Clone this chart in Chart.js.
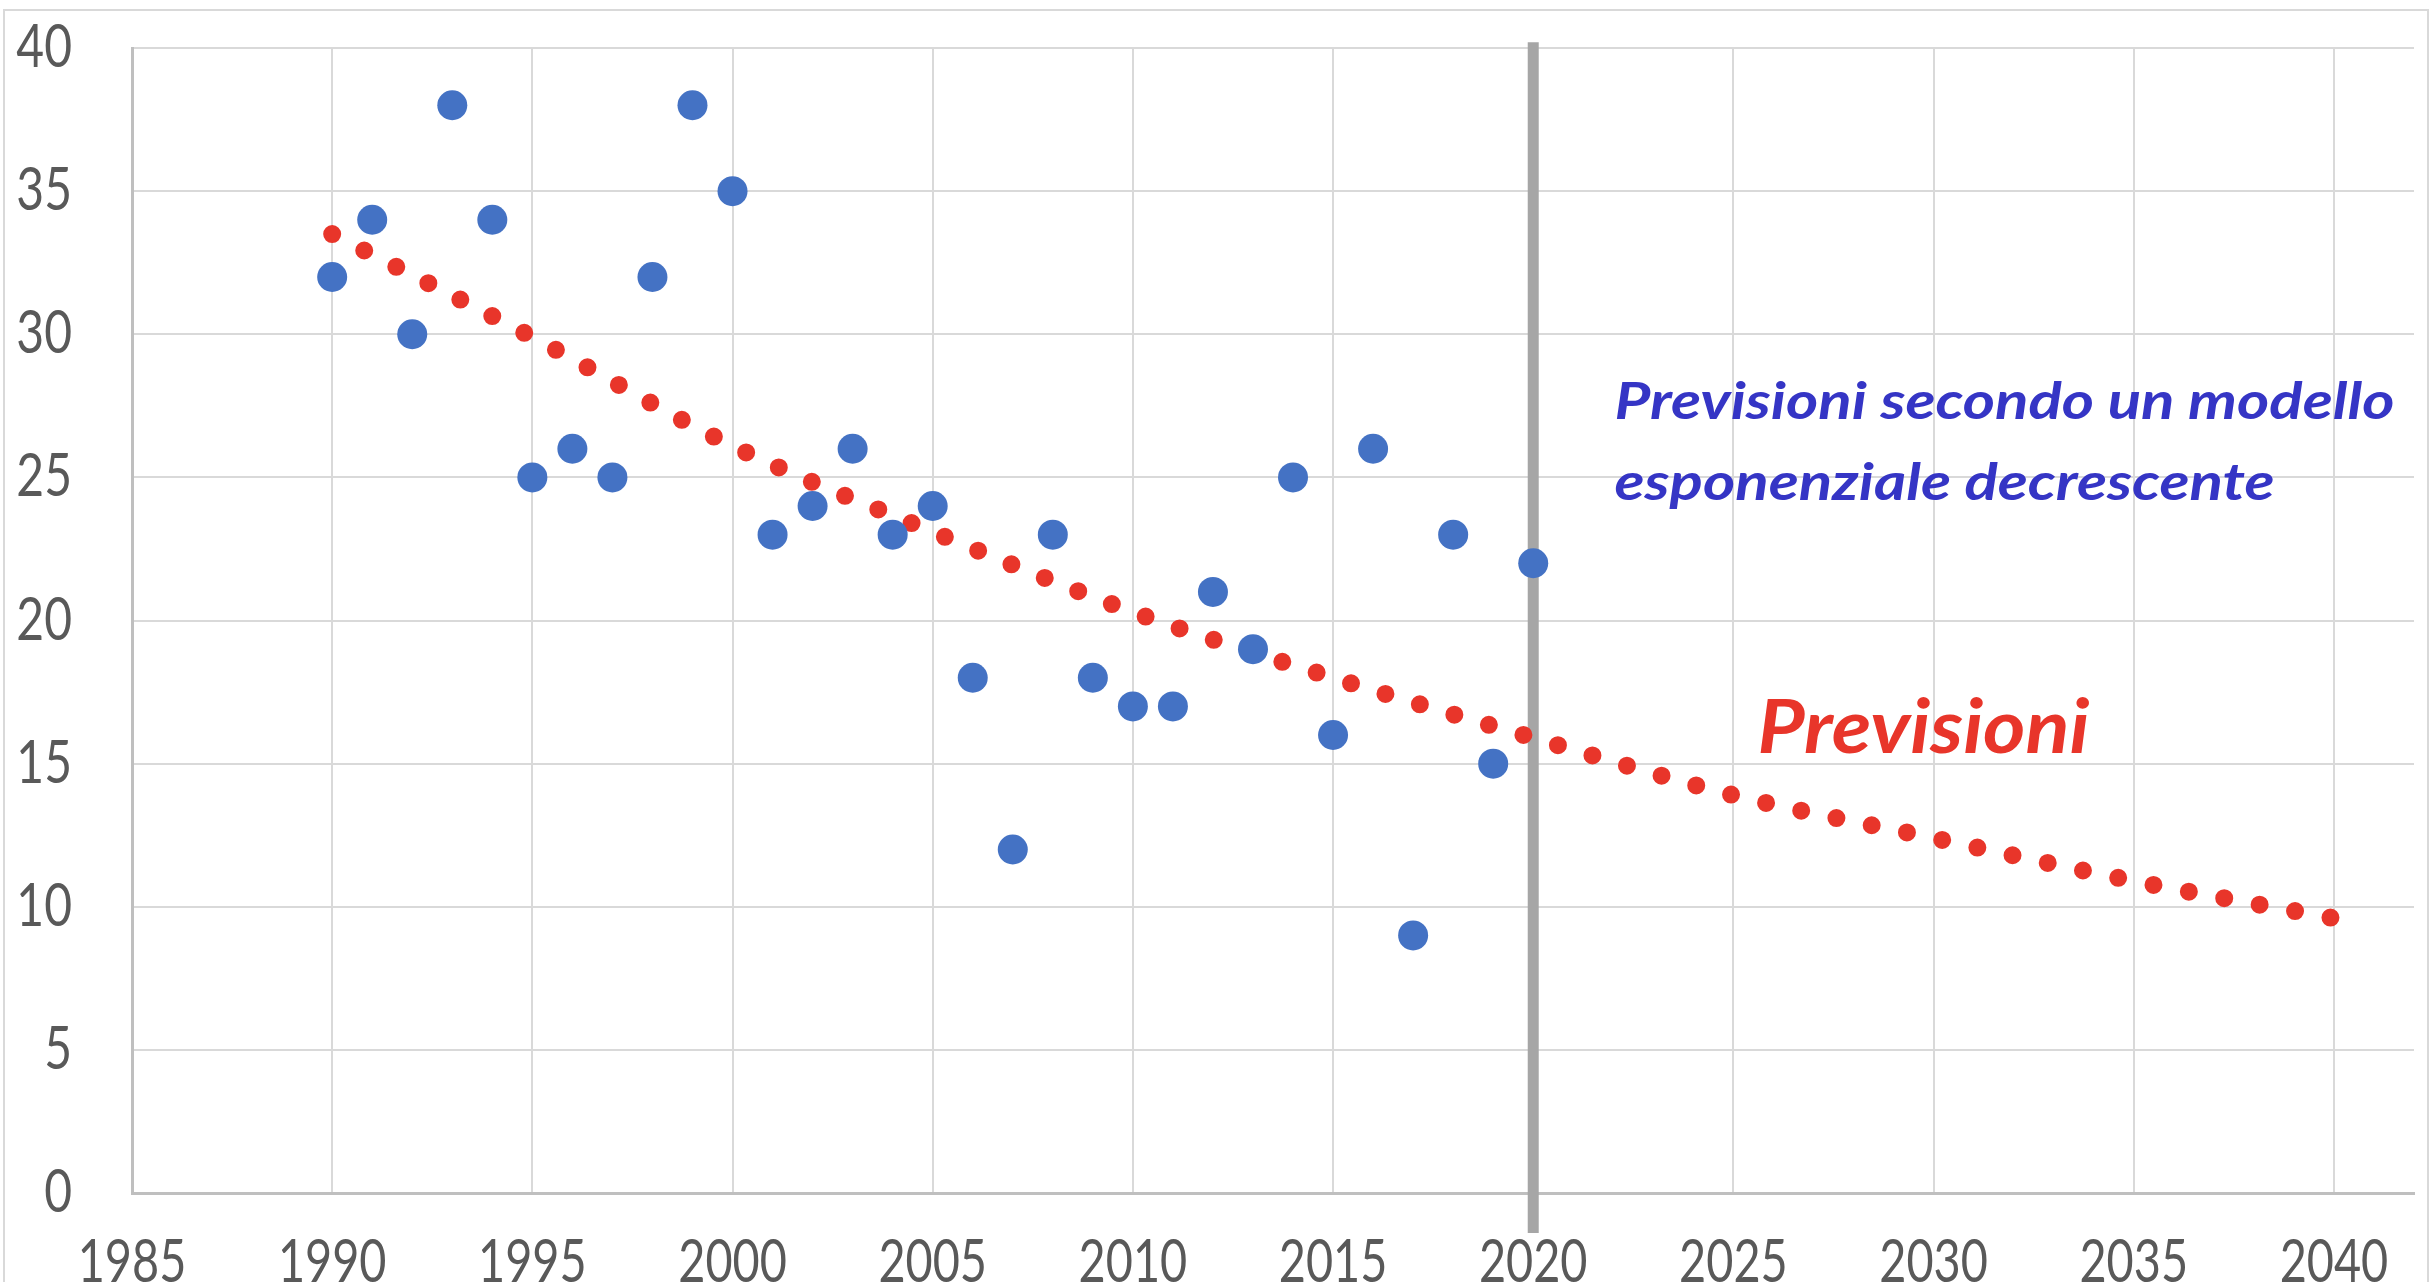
<!DOCTYPE html>
<html>
<head>
<meta charset="utf-8">
<script src="https://cdn.jsdelivr.net/npm/chart.js@4/dist/chart.umd.min.js"></script>
<style>
html,body{margin:0;padding:0;background:#fff;overflow:hidden;}
#frame{position:absolute;left:3px;top:9px;width:2422px;height:1300px;border:2px solid #d9d9d9;}
#wrap{position:absolute;left:0;top:0;width:2433px;height:1282px;}
</style>
</head>
<body>
<div id="frame"></div>
<div id="wrap"><canvas id="chart"></canvas></div>
<script>
// observed values, one per year
const years=[1990,1991,1992,1993,1994,1995,1996,1997,1998,1999,2000,2001,2002,2003,2004,2005,2006,2007,2008,2009,2010,2011,2012,2013,2014,2015,2016,2017,2018,2019,2020];
const values=[32,34,30,38,34,25,26,25,32,38,35,23,24,26,23,24,18,12,23,18,17,17,21,19,25,16,26,9,23,15,22];

// exponential trend every 5 years
const trendYears=[1990,1995,2000,2005,2010,2015,2020,2025,2030,2035,2040];
const trendValues=[33.5,29.9,26.1,23.1,20.3,18.0,15.9,13.9,12.4,10.9,9.6];

// vertical marker at 2020
const markerYears=[2020,2020];
const markerValues=[-1.4,40.2];

const xTicks=[1985,1990,1995,2000,2005,2010,2015,2020,2025,2030,2035,2040];
const yTicks=[0,5,10,15,20,25,30,35,40];
const noteLines=["Previsioni secondo un modello","esponenziale decrescente"];
const forecastLabel="Previsioni";

const FONT="Lato,'Open Sans',sans-serif";

// narrow text, like the original's condensed look
function squeezed(ctx,text,x,y,sx,align){
    ctx.save();
    ctx.translate(x,y);
    ctx.scale(sx,1);
    ctx.textAlign=align;
    ctx.fillText(text,0,0);
    ctx.restore();
}

const labels={
    id:"labels",
    afterDraw(chart){
        const {ctx,scales:{x,y}}=chart;
        ctx.save();
        ctx.textBaseline="alphabetic";
        ctx.fillStyle="#595959";
        ctx.font="60px "+FONT;
        yTicks.forEach(v=>squeezed(ctx,String(v),72,y.getPixelForValue(v)+19,0.8,"right"));
        xTicks.forEach(v=>squeezed(ctx,String(v),x.getPixelForValue(v),y.getPixelForValue(0)+89,0.78,"center"));

        ctx.fillStyle="#3535c5";
        ctx.font="italic bold 51px "+FONT;
        const sx=780/ctx.measureText(noteLines[0]).width;
        squeezed(ctx,noteLines[0],x.getPixelForValue(2022.03),y.getPixelForValue(27.04),sx,"left");
        squeezed(ctx,noteLines[1],x.getPixelForValue(2022.03),y.getPixelForValue(24.21),sx,"left");

        ctx.fillStyle="#e8352a";
        ctx.font="italic bold 74px "+FONT;
        const sr=332/ctx.measureText(forecastLabel).width;
        squeezed(ctx,forecastLabel,x.getPixelForValue(2025.6),y.getPixelForValue(15.37),sr,"left");
        ctx.restore();
    }
};

new Chart(document.getElementById("chart"),{
    type:"line",
    data:{
        datasets:[
            {
                data:years.map((v,i)=>({x:v,y:values[i]})),
                showLine:false,
                pointRadius:15,
                pointBackgroundColor:"#4472c4",
                pointBorderWidth:0
            },
            {
                data:trendYears.map((v,i)=>({x:v,y:trendValues[i]})),
                borderColor:"#e8352a",
                borderWidth:18,
                borderDash:[0,36],
                borderCapStyle:"round",
                cubicInterpolationMode:"monotone",
                pointRadius:0,
                fill:false
            },
            {
                data:markerYears.map((v,i)=>({x:v,y:markerValues[i]})),
                borderColor:"#a6a6a6",
                borderWidth:11,
                borderCapStyle:"butt",
                pointRadius:0,
                clip:false,
                fill:false
            }
        ]
    },
    options:{
        responsive:true,
        maintainAspectRatio:false,
        animation:false,
        events:[],
        layout:{padding:{left:0,top:48,right:19,bottom:0}},
        plugins:{legend:{display:false},tooltip:{enabled:false}},
        scales:{
            x:{
                type:"linear",
                min:1985,
                max:2042,
                afterBuildTicks(axis){axis.ticks=xTicks.map(v=>({value:v}));},
                afterFit(axis){axis.height=89;},
                grid:{color:"#d9d9d9",lineWidth:2,drawTicks:false},
                border:{color:"#bfbfbf",width:3},
                ticks:{display:false}
            },
            y:{
                min:0,
                max:40,
                afterBuildTicks(axis){axis.ticks=yTicks.map(v=>({value:v}));},
                afterFit(axis){axis.width=132;},
                grid:{color:"#d9d9d9",lineWidth:2,drawTicks:false},
                border:{color:"#bfbfbf",width:3},
                ticks:{display:false}
            }
        }
    },
    plugins:[labels]
});
</script>
</body>
</html>
